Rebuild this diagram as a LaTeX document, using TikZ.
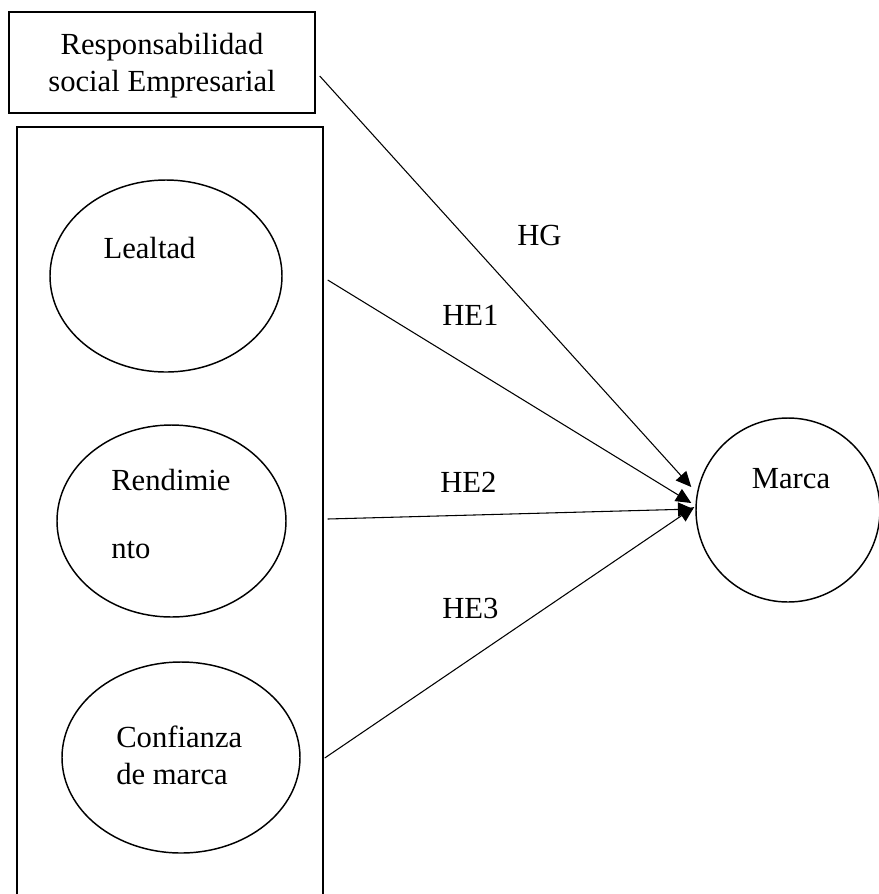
\documentclass[tikz,border=0pt]{standalone}
\usepackage{fontspec}
\setmainfont{Liberation Serif}
\usetikzlibrary{arrows.meta,calc,shapes.geometric}

\begin{document}
\begin{tikzpicture}[x=0.75pt,y=-0.75pt,
  caja/.style={draw,line width=1.1pt,inner sep=0pt},
  elipse/.style={draw,ellipse,line width=1.1pt,inner sep=0pt},
  txt/.style={inner sep=0pt,anchor=base west,font=\fontsize{23}{27.5}\selectfont},
  flecha/.style={line width=0.8pt,-{Triangle[length=11.5pt,width=10.5pt]}}]
\useasboundingbox (0,0) rectangle (879,894);

% cajas
\node[caja,minimum width=229.5pt,minimum height=75.75pt,align=center,text depth=0pt,
  font=\fontsize{23}{27.5}\selectfont] (rse) at (162,62.5) {Responsabilidad\\social Empresarial};
\node[caja,minimum width=229.5pt,minimum height=654.75pt] (grupo) at (170,563.5) {};

% dimensiones
\node[elipse,minimum width=174pt,minimum height=144pt] (lealtad) at (166,276) {};
\node[elipse,minimum width=171.75pt,minimum height=144pt] (rendimiento) at (171.5,521) {};
\node[elipse,minimum width=178.5pt,minimum height=143.25pt] (confianza) at (181,757.5) {};
\node[draw,circle,line width=1.1pt,inner sep=0pt,minimum size=138pt] (marca) at (788,510) {};

\node[txt,anchor=base] (lealtadtxt) at (149.5,258) {Lealtad};
\node[txt] (rendtxta) at (111,490) {Rendimie};
\node[txt] (rendtxtb) at (111,558) {nto};
\node[txt,align=left] (conftxt) at (116,784) {Confianza\\de marca};
\node[txt,anchor=base] (marcatxt) at (791,488) {Marca};

% hipotesis
\coordinate (s0) at ($(rse.east)+(4,13.5)$);
\coordinate (s1) at ($(grupo.east |- lealtad.center)+(4,4)$);
\coordinate (s2) at ($(grupo.east |- rendimiento.center)+(4,-2)$);
\coordinate (s3) at ($(grupo.east |- confianza.center)+(1,0.5)$);
\draw[flecha] (s0) -- ($(marca.west)+(-4,-23)$);
\draw[flecha] (s1) -- ($(marca.west)+(-4,-7)$);
\draw[flecha] (s2) -- ($(marca.west)+(-2,-1)$);
\draw[flecha] (s3) -- ($(marca.west)+(-1,-3)$);

\node[txt] (hg) at (517,245) {HG};
\node[txt] (he1) at (442,325) {HE1};
\node[txt] (he2) at (440,492) {HE2};
\node[txt] (he3) at (442,618) {HE3};
\end{tikzpicture}
\end{document}
